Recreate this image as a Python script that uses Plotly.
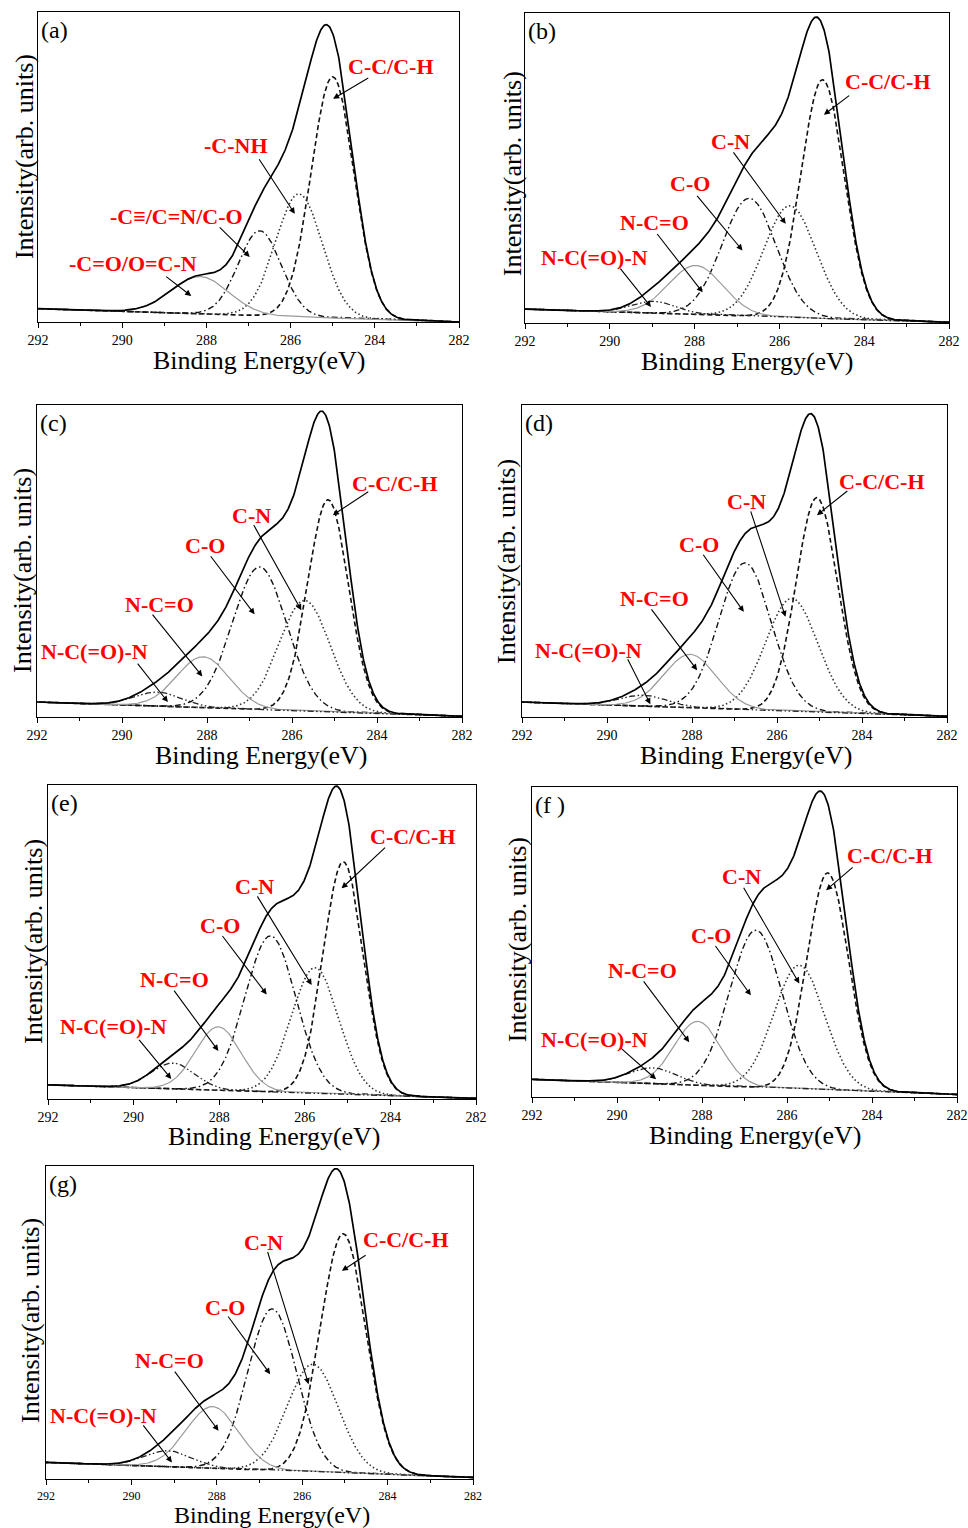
import numpy as np
import plotly.graph_objects as go

# ---------------- data ----------------
panel_tags = ["(a)", "(b)", "(c)", "(d)", "(e)", "(f )", "(g)"]
tick_values = [292, 290, 288, 286, 284, 282]
tick_labels = ["292", "290", "288", "286", "284", "282"]

labels_a = ["C-C/C-H", "-C-NH", "-C\u2261/C=N/C-O", "-C=O/O=C-N"]
labels_bg = ["C-C/C-H", "C-N", "C-O", "N-C=O", "N-C(=O)-N"]

# fitted peak components: centre (eV), height above background, FWHM (eV)
centre_a = [285.00, 285.80, 286.73, 288.15]
height_a = [0.778, 0.397, 0.274, 0.120]
fwhm_a = [1.20, 1.30, 1.20, 1.60]

centre_b = [284.98, 285.75, 286.71, 287.97, 288.95]
height_b = [0.770, 0.360, 0.380, 0.158, 0.038]
fwhm_b = [1.20, 1.45, 1.50, 1.50, 1.20]

centre_c = [285.15, 285.70, 286.76, 288.09, 289.15]
height_c = [0.680, 0.355, 0.457, 0.163, 0.045]
fwhm_c = [1.12, 1.40, 1.50, 1.45, 1.30]

centre_d = [285.06, 285.65, 286.75, 288.04, 289.14]
height_d = [0.687, 0.361, 0.470, 0.171, 0.035]
fwhm_d = [1.15, 1.45, 1.45, 1.45, 1.30]

centre_e = [285.10, 285.76, 286.80, 288.02, 289.08]
height_e = [0.740, 0.400, 0.497, 0.202, 0.082]
fwhm_e = [1.10, 1.30, 1.40, 1.25, 1.20]

centre_f = [285.04, 285.71, 286.73, 288.10, 289.16]
height_f = [0.700, 0.399, 0.507, 0.206, 0.051]
fwhm_f = [1.15, 1.40, 1.45, 1.30, 1.30]

centre_g = [285.04, 285.75, 286.70, 288.10, 289.13]
height_g = [0.764, 0.344, 0.516, 0.197, 0.051]
fwhm_g = [1.25, 1.40, 1.35, 1.45, 1.30]

# linear background: value at 292 eV and at 282 eV
bg_at_292 = [0.043, 0.045, 0.048, 0.048, 0.045, 0.057, 0.053]
bg_at_282 = [0.000, 0.002, 0.002, 0.002, 0.002, 0.008, 0.005]

centres = [centre_a, centre_b, centre_c, centre_d, centre_e, centre_f, centre_g]
heights = [height_a, height_b, height_c, height_d, height_e, height_f, height_g]
fwhms = [fwhm_a, fwhm_b, fwhm_c, fwhm_d, fwhm_e, fwhm_f, fwhm_g]

# ---------------- layout (positions & styles) ----------------
W, H = 968, 1528
boxes = [  # left, right, top, bottom in px
    (38, 459, 12, 322),
    (525, 949, 13, 323),
    (37, 462, 405, 717),
    (522, 947, 405, 717),
    (48, 476, 785, 1099),
    (532, 957, 787, 1097),
    (46, 473, 1166, 1479),
]
tick_font_size = [14, 14, 14, 14, 14, 14, 12]
xtitle_px = [259.5, 747, 261, 746.5, 274, 755, 271.5]
xtitle_shift = [-38, -39, -38, -38, -37, -38, -36]
xtitle_size = [26, 26, 26, 26, 26, 26, 24]
ytitle_pos = [0.532, 0.48, 0.468, 0.497, 0.5, 0.506, 0.505]
ytitle_shift = [-14, -13, -14, -15, -15, -15, -15]

# label centre (x, y) and arrow tail -> head, per panel
label_place = [
    [((283.61, 0.823), (284.12, 0.790), (284.99, 0.72)),
     ((287.29, 0.570), (286.77, 0.530), (285.90, 0.349)),
     ((288.71, 0.339), (287.72, 0.310), (286.97, 0.21)),
     ((289.74, 0.188), (288.99, 0.150), (288.36, 0.084))],
    [((283.44, 0.780), (284.32, 0.737), (284.95, 0.672)),
     ((287.15, 0.586), (287.11, 0.555), (285.85, 0.320)),
     ((288.10, 0.449), (287.97, 0.415), (286.87, 0.234)),
     ((288.95, 0.325), (288.91, 0.292), (287.81, 0.099)),
     ((290.37, 0.210), (289.78, 0.180), (289.03, 0.052))],
    [((283.58, 0.749), (284.17, 0.725), (285.04, 0.647)),
     ((286.96, 0.647), (286.92, 0.620), (285.78, 0.342)),
     ((288.05, 0.549), (287.94, 0.520), (286.88, 0.329)),
     ((289.11, 0.361), (289.31, 0.333), (288.11, 0.130)),
     ((290.64, 0.209), (289.66, 0.176), (288.92, 0.048))],
    [((283.53, 0.754), (284.31, 0.728), (285.06, 0.647)),
     ((286.71, 0.692), (286.63, 0.664), (285.80, 0.321)),
     ((287.84, 0.554), (287.76, 0.525), (286.78, 0.337)),
     ((288.89, 0.380), (288.98, 0.350), (287.88, 0.150)),
     ((290.43, 0.214), (289.53, 0.190), (288.98, 0.041))],
    [((283.47, 0.835), (284.09, 0.805), (285.14, 0.671)),
     ((287.17, 0.676), (287.13, 0.650), (285.84, 0.363)),
     ((287.97, 0.551), (287.95, 0.524), (286.89, 0.333)),
     ((289.04, 0.381), (289.08, 0.350), (288.02, 0.153)),
     ((290.48, 0.230), (289.90, 0.193), (289.12, 0.064))],
    [((283.57, 0.780), (284.42, 0.745), (285.08, 0.667)),
     ((287.08, 0.710), (287.04, 0.680), (285.71, 0.366)),
     ((287.79, 0.522), (287.71, 0.492), (286.85, 0.328)),
     ((289.40, 0.409), (289.40, 0.378), (288.30, 0.177)),
     ((290.53, 0.186), (289.95, 0.163), (289.08, 0.057))],
    [((283.58, 0.766), (284.48, 0.718), (285.07, 0.665)),
     ((286.90, 0.757), (286.82, 0.730), (285.85, 0.303)),
     ((287.80, 0.548), (287.76, 0.524), (286.75, 0.335)),
     ((289.10, 0.380), (289.01, 0.348), (287.96, 0.154)),
     ((290.65, 0.202), (289.75, 0.176), (289.05, 0.053))],
]

comp_styles = [
    dict(color="#111111", dash="5px,3px", width=1.6),
    dict(color="#333333", dash="1.5px,2.5px", width=1.6),
    dict(color="#111111", dash="6px,3px,1.5px,3px", width=1.4),
    dict(color="#9a9a9a", dash="solid", width=1.2),
    dict(color="#222222", dash="6px,2.5px,1.5px,2.5px,1.5px,2.5px", width=1.3),
]

SERIF = "Liberation Serif, Times New Roman, serif"

fig = go.Figure()
energy = np.linspace(282.0, 292.0, 801)
annotations = []
layout = {}

for i in range(7):
    sfx = "" if i == 0 else str(i + 1)
    xa, ya = "x" + sfx, "y" + sfx
    left, right, top, bottom = boxes[i]
    layout["xaxis" + sfx] = dict(
        domain=[left / W, right / W], range=[292, 282], anchor=ya,
        automargin=False,
        tickmode="array", tickvals=tick_values, ticktext=tick_labels,
        ticks="outside", ticklen=5, tickwidth=1.2, tickcolor="black",
        minor=dict(dtick=1, tick0=282, ticks="outside", ticklen=3,
                   tickwidth=1, tickcolor="black"),
        showline=True, mirror=True, linecolor="black", linewidth=1.3,
        showgrid=False, zeroline=False,
        tickfont=dict(family=SERIF, size=tick_font_size[i], color="black"),
    )
    layout["yaxis" + sfx] = dict(
        domain=[1 - bottom / H, 1 - top / H], range=[0, 1], anchor=xa,
        automargin=False,
        showticklabels=False, ticks="", showline=True, mirror=True,
        linecolor="black", linewidth=1.3, showgrid=False, zeroline=False,
    )

    bl, br = bg_at_292[i], bg_at_282[i]
    background = bl + (br - bl) * (292.0 - energy) / 10.0
    total = background.copy()
    for k, (c, h, w) in enumerate(zip(centres[i], heights[i], fwhms[i])):
        peak = h * np.exp(-4 * np.log(2) * (energy - c) ** 2 / w ** 2)
        total = total + peak
        fig.add_trace(go.Scatter(
            x=energy, y=background + peak, mode="lines", xaxis=xa, yaxis=ya,
            line=comp_styles[k], showlegend=False, hoverinfo="skip"))
    fig.add_trace(go.Scatter(
        x=energy, y=total, mode="lines", xaxis=xa, yaxis=ya,
        line=dict(color="black", width=1.7), showlegend=False, hoverinfo="skip"))

    names = labels_a if i == 0 else labels_bg
    for name, (lab, tail, head) in zip(names, label_place[i]):
        annotations.append(dict(
            x=head[0], y=head[1], xref=xa, yref=ya,
            ax=tail[0], ay=tail[1], axref=xa, ayref=ya,
            text="", showarrow=True, arrowhead=2, arrowsize=1.1,
            arrowwidth=1.1, arrowcolor="black"))
        annotations.append(dict(
            x=lab[0], y=lab[1], xref=xa, yref=ya, text="<b>%s</b>" % name,
            showarrow=False, xanchor="center", yanchor="middle",
            font=dict(family=SERIF, size=22, color="#ff0000")))

    # panel tag
    annotations.append(dict(
        x=0, y=1, xref=xa + " domain", yref=ya + " domain", text=panel_tags[i],
        showarrow=False, xanchor="left", yanchor="top", xshift=1, yshift=-3,
        font=dict(family=SERIF, size=24, color="black")))
    # axis titles
    annotations.append(dict(
        x=(xtitle_px[i] - left) / (right - left), y=0,
        xref=xa + " domain", yref=ya + " domain",
        text="Binding Energy(eV)", showarrow=False, xanchor="center",
        yanchor="middle", yshift=xtitle_shift[i],
        font=dict(family=SERIF, size=xtitle_size[i], color="black")))
    annotations.append(dict(
        x=0, y=ytitle_pos[i], xref=xa + " domain", yref=ya + " domain",
        text="Intensity(arb. units)", showarrow=False, textangle=-90,
        xanchor="center", yanchor="middle", xshift=ytitle_shift[i],
        font=dict(family=SERIF, size=26, color="black")))

fig.update_layout(
    width=W, height=H, margin=dict(l=0, r=0, t=0, b=0),
    paper_bgcolor="white", plot_bgcolor="white",
    annotations=annotations, **layout)

fig.write_html("out.html")
